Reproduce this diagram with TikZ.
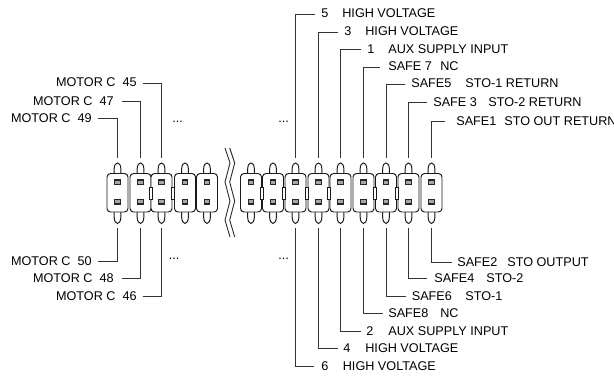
\documentclass[tikz,border=0pt]{standalone}
\usepackage{fontspec}
\setmainfont{Liberation Sans}
\tikzset{lead/.style={draw=black!80,line width=0.55pt},
  lbl/.style={inner sep=0pt,anchor=base west,font=\fontsize{7.2}{8}\selectfont},
  lblr/.style={lbl,anchor=base east},
  body/.style={draw=black!90,line width=0.55pt,fill=white,rounded corners=2pt},
  contact/.style={draw=black!85,line width=0.75pt,fill=black!35},
  gate/.style={draw=black!90,line width=0.55pt,fill=white}}
\newcommand{\pinrow}[1]{%
  \draw[gate] (#1-3.3,174) -- (#1-3.3,168.5) .. controls (#1-3.3,165) and (#1-1.5,163) .. (#1,163) .. controls (#1+1.5,163) and (#1+3.3,165) .. (#1+3.3,168.5) -- (#1+3.3,174);
  \draw[gate] (#1-3.3,212) -- (#1-3.3,217.5) .. controls (#1-3.3,221) and (#1-1.5,223.5) .. (#1,223.5) .. controls (#1+1.5,223.5) and (#1+3.3,221) .. (#1+3.3,217.5) -- (#1+3.3,212);
  \draw[body] (#1-10.5,173.5) rectangle (#1+10.5,212);
  \draw[contact] (#1-2.8,180) rectangle (#1+2.8,184.8);
  \draw[contact] (#1-2.8,199.2) rectangle (#1+2.8,204);
}
\begin{document}
\begin{tikzpicture}[x=0.02cm,y=-0.02cm]
  \useasboundingbox (0,0) rectangle (614,375);
  % housings, left block
  \foreach \x in {117.5,140.5,161.5,185,207}{ \pinrow{\x} }
  % housings, right block
  \foreach \x in {251,273,295.5,318.5,340.5,363.5,386,408.5,431.5}{ \pinrow{\x} }
  % link pieces between the housings
  \foreach \x in {151,173,262,284,307,329,375,397}{
    \draw[gate] (\x-1.4,187) rectangle (\x+1.4,199.5);
  }
  % break mark
  \foreach \d in {0,4.7}{
    \draw[black!85,line width=0.5pt] (225+\d,148) -- (230+\d,163) -- (225+\d,182) -- (230+\d,201) -- (225+\d,220) -- (230+\d,237);
  }
  % motor side
  \foreach \nm/\x/\y/\e/\tx/\a/\yy in {
    m45/161.5/83/142.7/137/45/158,
    m47/140.5/101.5/122/114/47/158,
    m49/117.5/118/98/92/49/158,
    m50/117.5/261.5/98/92/50/228,
    m48/140.5/278/122/114/48/228,
    m46/161.5/296/142.7/137/46/228}{
    \coordinate (\nm a) at (\e,\y);
    \coordinate (\nm b) at (\x,\yy);
    \node[lblr] (\nm) at (\tx,\y+4){MOTOR C\ \ \a};
    \draw[lead] (\nm a) -- (\nm b |- \nm a) -- (\nm b);
  }
  % dots
  \node[lbl] (dl1) at (172,122.5){...};
  \node[lbl] (dl2) at (168.5,259.5){...};
  \node[lbl] (dr1) at (278,122.5){...};
  \node[lbl] (dr2) at (278,259.5){...};
  % right side, top
  \foreach \nm/\x/\y/\e/\tx/\a/\ax/\b in {
    h5/295.5/14/315/321/5/342/HIGH VOLTAGE,
    h3/318.5/32/338/344/3/365/HIGH VOLTAGE,
    h1/340.5/49/361/367/1/388/AUX SUPPLY INPUT,
    s7/363.5/67/380/388/SAFE 7/440/NC,
    s5/386/84/405/411/SAFE5/465/STO-1 RETURN,
    s3/408.5/102/427/433/SAFE 3/488/STO-2 RETURN,
    s1/431.5/121/445/456/SAFE1/504/STO OUT RETURN}{
    \coordinate (\nm a) at (\e,\y);
    \coordinate (\nm b) at (\x,158);
    \node[lbl] (\nm) at (\tx,\y+4){\a};
    \node[lbl] (\nm t) at (\ax,\y+4){\b};
    \draw[lead] (\nm a) -- (\nm b |- \nm a) -- (\nm b);
  }
  % right side, bottom
  \foreach \nm/\x/\y/\e/\tx/\a/\ax/\b in {
    h6/295.5/366/314/321/6/342.5/HIGH VOLTAGE,
    h4/318.5/348/338/343/4/365/HIGH VOLTAGE,
    h2/340.5/331/361/366/2/388/AUX SUPPLY INPUT,
    s8/363.5/313/383/388/SAFE8/440/NC,
    s6/386/296/406/411.5/SAFE6/465/STO-1,
    s4/408.5/278/427/434/SAFE4/486/STO-2,
    s2/431.5/262/452/457/SAFE2/507/STO OUTPUT}{
    \coordinate (\nm a) at (\e,\y);
    \coordinate (\nm b) at (\x,228);
    \node[lbl] (\nm) at (\tx,\y+4){\a};
    \node[lbl] (\nm t) at (\ax,\y+4){\b};
    \draw[lead] (\nm a) -- (\nm b |- \nm a) -- (\nm b);
  }
\end{tikzpicture}
\end{document}
